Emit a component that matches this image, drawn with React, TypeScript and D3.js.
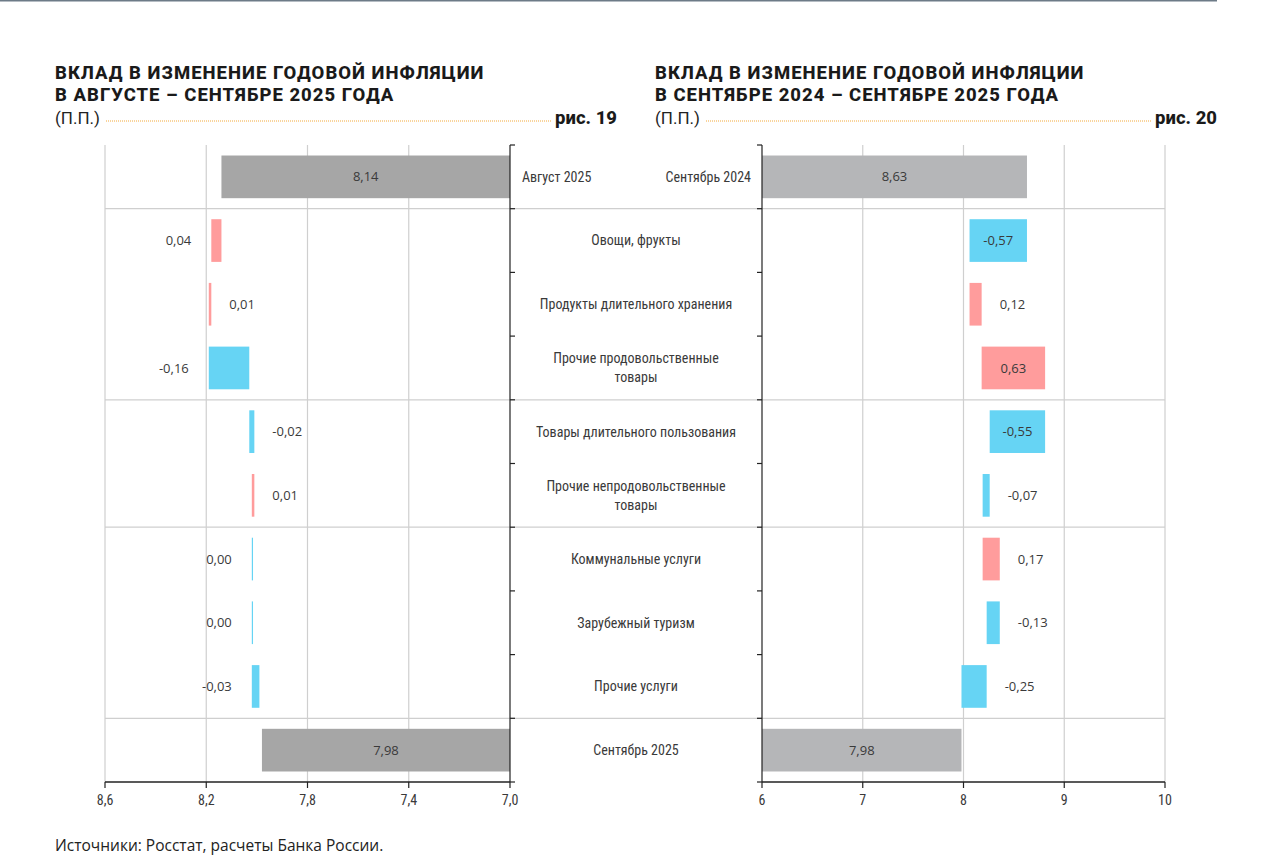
import * as d3 from "d3";

const categories = [
  "Овощи, фрукты",
  "Продукты длительного хранения",
  "Прочие продовольственные\nтовары",
  "Товары длительного пользования",
  "Прочие непродовольственные\nтовары",
  "Коммунальные услуги",
  "Зарубежный туризм",
  "Прочие услуги",
];
// number of categories in each group (food, non-food, services)
const groupSizes = [3, 2, 3];

const leftStartLabel = "Август 2025";
const leftStart = 8.14;
const leftValues = [0.04, 0.01, -0.16, -0.02, 0.01, 0.0, 0.0, -0.03];
const leftEnd = 7.98;
const leftLabelSide = ["left", "right", "left", "right", "right", "left", "left", "left"];
const leftTicks = [8.6, 8.2, 7.8, 7.4, 7.0];

const rightStartLabel = "Сентябрь 2024";
const rightStart = 8.63;
const rightValues = [-0.57, 0.12, 0.63, -0.55, -0.07, 0.17, -0.13, -0.25];
const rightEnd = 7.98;
const rightLabelSide = ["inside", "right", "inside", "inside", "right", "right", "right", "right"];
const rightTicks = [6, 7, 8, 9, 10];

const endLabel = "Сентябрь 2025";

const titleLeft = ["ВКЛАД В ИЗМЕНЕНИЕ ГОДОВОЙ ИНФЛЯЦИИ", "В АВГУСТЕ – СЕНТЯБРЕ 2025 ГОДА"];
const titleRight = ["ВКЛАД В ИЗМЕНЕНИЕ ГОДОВОЙ ИНФЛЯЦИИ", "В СЕНТЯБРЕ 2024 – СЕНТЯБРЕ 2025 ГОДА"];
const unit = "(П.П.)";
const figLeft = "рис. 19";
const figRight = "рис. 20";
const source = "Источники: Росстат, расчеты Банка России.";

const W = 1280;
const H = 866;
const top = 145;
const bottom = 782;

const POS = "#ff9c9c";
const NEG = "#66d4f4";
const GRID = "#cfcfcf";
const TXT = "#3a3a3a";
const COND = "'Roboto Condensed', 'Liberation Sans Narrow', Roboto, sans-serif";
const SANS = "'Open Sans', 'Noto Sans', sans-serif";
const HEAD = "Roboto, 'Noto Sans', sans-serif";

const fmt = (v: number) => v.toFixed(2).replace(".", ",");

const rowKeys = ["start", ...categories.map((_, i) => "c" + i), "end"];
const y = d3
  .scaleBand()
  .domain(rowKeys)
  .range([top, bottom])
  .paddingInner(0.33)
  .paddingOuter(0.165);
const step = y.step();
const boundaries = d3.range(rowKeys.length + 1).map((i) => top + i * step);
// separator rows: after start row, after each group
const separators = [1, ...d3.cumsum(groupSizes).map((n) => n + 1)].map((i) => boundaries[i]);

type Panel = {
  x: d3.ScaleLinear<number, number>;
  base: number;
  start: number;
  values: number[];
  end: number;
  sides: string[];
  ticks: number[];
  gray: string;
  tickFmt: (v: number) => string;
  axisX: number;
  tickDir: number;
};

function Waterfall({ p }: { p: Panel }) {
  const { x } = p;
  let cum = p.start;
  const steps = p.values.map((v, i) => {
    const a = cum;
    cum = cum + v;
    return { key: "c" + i, v, a, b: cum, side: p.sides[i] };
  });
  const [r0, r1] = x.range();
  const bw = y.bandwidth();
  return (
    <g>
      {p.ticks.map((t) =>
        x(t) === p.axisX ? null : (
          <line key={t} x1={x(t)} x2={x(t)} y1={top} y2={bottom} stroke={GRID} strokeWidth={1.2} />
        )
      )}
      {/* totals */}
      {[
        { key: "start", v: p.start },
        { key: "end", v: p.end },
      ].map((d) => {
        const xa = Math.min(x(p.base), x(d.v));
        const xb = Math.max(x(p.base), x(d.v));
        return (
          <g key={d.key}>
            <rect x={xa} y={y(d.key)} width={xb - xa} height={bw} fill={p.gray} />
            <text
              x={(xa + xb) / 2}
              y={y(d.key)! + bw / 2}
              dy="0.35em"
              textAnchor="middle"
              fontFamily={SANS}
              fontSize={13}
              fill={TXT}
            >
              {fmt(d.v)}
            </text>
          </g>
        );
      })}
      {steps.map((s) => {
        const xa = Math.min(x(s.a), x(s.b));
        const xb = Math.max(x(s.a), x(s.b));
        const w = Math.max(xb - xa, 1.2);
        const yy = y(s.key)! + bw / 2;
        let tx = (xa + xb) / 2;
        let anchor = "middle";
        if (s.side === "left") {
          tx = xa - 20;
          anchor = "end";
        } else if (s.side === "right") {
          tx = xa + w + 18;
          anchor = "start";
        }
        return (
          <g key={s.key}>
            <rect x={xa} y={y(s.key)} width={w} height={bw} fill={s.v > 0 ? POS : NEG} />
            <text x={tx} y={yy} dy="0.35em" textAnchor={anchor} fontFamily={SANS} fontSize={13} fill={TXT}>
              {fmt(s.v)}
            </text>
          </g>
        );
      })}
      {/* category axis */}
      <line x1={p.axisX} x2={p.axisX} y1={top} y2={bottom} stroke="#222" strokeWidth={1.2} />
      {boundaries.map((b, i) => (
        <line key={i} x1={p.axisX} x2={p.axisX + 5 * p.tickDir} y1={b} y2={b} stroke="#222" strokeWidth={1.2} />
      ))}
      {/* value axis */}
      <line x1={r0} x2={r1} y1={bottom} y2={bottom} stroke="#222" strokeWidth={1.4} />
      {p.ticks.map((t) => (
        <g key={t} transform={`translate(${x(t)},${bottom})`}>
          <line y2={6} stroke="#222" strokeWidth={1.2} />
          <text y={18} dy="0.35em" textAnchor="middle" fontFamily={COND} fontSize={14} fill={TXT}>
            {p.tickFmt(t)}
          </text>
        </g>
      ))}
    </g>
  );
}

function Header({ x0, x1, lines, fig }: { x0: number; x1: number; lines: string[]; fig: string }) {
  return (
    <g>
      {lines.map((l, i) => (
        <text
          key={i}
          x={x0}
          y={79 + i * 22}
          fontFamily={HEAD}
          fontWeight={800}
          fontSize={18.5}
          letterSpacing={1}
          fill="#1a1a1a"
        >
          {l}
        </text>
      ))}
      <text x={x0} y={124} fontFamily={HEAD} fontSize={17} fill="#222">
        {unit}
      </text>
      <line x1={x0 + 51} x2={x1 - 66} y1={121} y2={121} stroke="#f3a93a" strokeWidth={1} strokeDasharray="1 1" />
      <text x={x1} y={124} textAnchor="end" fontFamily={HEAD} fontWeight={800} fontSize={18.5} fill="#1a1a1a">
        {fig}
      </text>
    </g>
  );
}

export default function App() {
  const xL = d3.scaleLinear().domain([8.6, 7.0]).range([105, 510]);
  const xR = d3.scaleLinear().domain([6, 10]).range([762, 1165]);
  const midX = (510 + 762) / 2;
  const bw = y.bandwidth();

  return (
    <svg width={W} height={H} style={{ position: "absolute", left: 0, top: 0, background: "#fff" }}>
      <line x1={0} x2={1217} y1={0.5} y2={0.5} stroke="#6d7b87" strokeWidth={2} />
      <Header x0={55} x1={617} lines={titleLeft} fig={figLeft} />
      <Header x0={655} x1={1217} lines={titleRight} fig={figRight} />

      {separators.map((s, i) => (
        <line key={i} x1={105} x2={1165} y1={s} y2={s} stroke={GRID} strokeWidth={1.2} />
      ))}

      <Waterfall
        p={{
          x: xL,
          base: 7.0,
          start: leftStart,
          values: leftValues,
          end: leftEnd,
          sides: leftLabelSide,
          ticks: leftTicks,
          gray: "#a6a6a6",
          tickFmt: (v) => v.toFixed(1).replace(".", ","),
          axisX: 510,
          tickDir: 1,
        }}
      />
      <Waterfall
        p={{
          x: xR,
          base: 6,
          start: rightStart,
          values: rightValues,
          end: rightEnd,
          sides: rightLabelSide,
          ticks: rightTicks,
          gray: "#b5b6b8",
          tickFmt: (v) => String(v),
          axisX: 762,
          tickDir: -1,
        }}
      />

      {/* middle labels */}
      <text x={522} y={y("start")! + bw / 2} dy="0.35em" fontFamily={COND} fontSize={14} fill={TXT}>
        {leftStartLabel}
      </text>
      <text
        x={751}
        y={y("start")! + bw / 2}
        dy="0.35em"
        textAnchor="end"
        fontFamily={COND}
        fontSize={14}
        fill={TXT}
      >
        {rightStartLabel}
      </text>
      {categories.map((c, i) => {
        const parts = c.split("\n");
        const cy = y("c" + i)! + bw / 2;
        return (
          <text key={c} textAnchor="middle" fontFamily={COND} fontSize={14} fill={TXT}>
            {parts.map((p, j) => (
              <tspan key={j} x={midX} y={cy + (j - (parts.length - 1) / 2) * 19} dy="0.35em">
                {p}
              </tspan>
            ))}
          </text>
        );
      })}
      <text
        x={midX}
        y={y("end")! + bw / 2}
        dy="0.35em"
        textAnchor="middle"
        fontFamily={COND}
        fontSize={14}
        fill={TXT}
      >
        {endLabel}
      </text>

      <text x={55} y={851} fontFamily={SANS} fontSize={15.5} fill="#222">
        {source}
      </text>
    </svg>
  );
}
